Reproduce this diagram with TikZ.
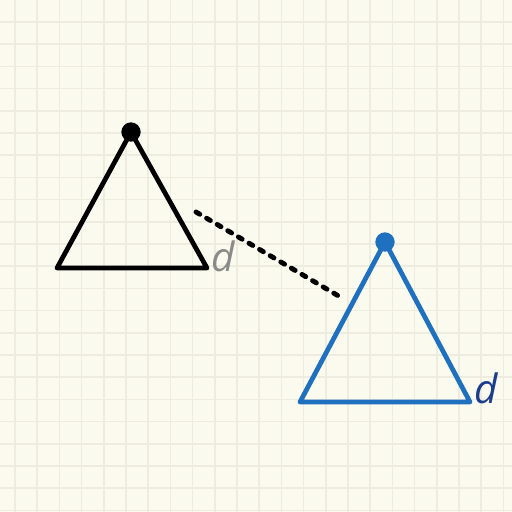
\documentclass[tikz,border=0pt]{standalone}
\usepackage{fontspec}
\setsansfont{Open Sans}
\definecolor{paper}{HTML}{FBFAEE}
\definecolor{gridline}{HTML}{EDECDF}
\definecolor{triblue}{HTML}{2070C0}
\definecolor{labelblue}{HTML}{1C3C8C}
\definecolor{labelgray}{HTML}{8A8A8A}
\tikzset{
  tri/.style={line width=2.7pt, line join=round},
  apexdot/.style={circle, fill, inner sep=0pt, minimum size=11pt},
  distlabel/.style={font=\sffamily\itshape\fontsize{23}{23}\selectfont, inner sep=0pt},
}
\begin{document}
\begin{tikzpicture}[x=0.02cm, y=-0.02cm]
        % Paper and grid
        \fill[paper] (0,0) rectangle (512,512);
        \useasboundingbox (0,0) rectangle (512,512);
        \foreach \i in {0,...,22} {
          \draw[gridline, line width=1pt] (15+22.2*\i,0) -- (15+22.2*\i,512);
          \draw[gridline, line width=1pt] (0,22+22.2*\i) -- (512,22+22.2*\i);
        }

        % Black triangle
        \node[apexdot, black] (TopA) at (131,132) {};
        \coordinate (LeftA) at (57,268);
        \coordinate (RightA) at (207,268);
        \draw[tri, black] (TopA.center) -- (LeftA) -- (RightA) -- cycle;
        \node[distlabel, labelgray] (dA) at (223,256) {d};

        % Blue triangle
        \node[apexdot, triblue] (TopB) at (385,242) {};
        \coordinate (LeftB) at (300,402);
        \coordinate (RightB) at (470,402);
        \draw[tri, triblue] (TopB.center) -- (LeftB) -- (RightB) -- cycle;
        \node[distlabel, labelblue] (dB) at (486,388) {d};

        % Distance between them
        \coordinate (GapA) at (196,212);
        \coordinate (GapB) at (342,298);
        \draw[line width=2.8pt, line cap=round, dash pattern=on 2.5pt off 4.5pt] (GapA) -- (GapB);

\end{tikzpicture}
\end{document}
